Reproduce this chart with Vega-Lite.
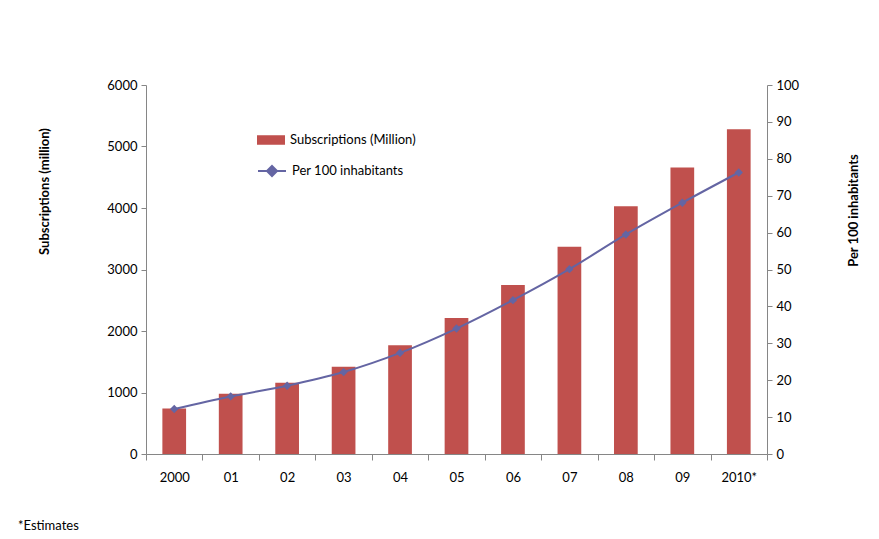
{
  "$schema": "https://vega.github.io/schema/vega-lite/v6.json",
  "autosize": {"type": "none"},
  "width": 621,
  "height": 369,
  "padding": {"left": 146, "top": 85, "right": 112, "bottom": 85},
  "background": "white",
  "config": {
    "font": "Lato",
    "view": {"stroke": null},
    "axis": {"labelFont": "Lato", "titleFont": "Lato", "labelFontSize": 13, "titleFontSize": 13, "labelColor": "#000000", "titleColor": "#000000", "domainColor": "#868686", "tickColor": "#868686", "grid": false, "titleFontWeight": "bold"},
    "legend": {"labelFont": "Lato", "labelFontSize": 13, "labelColor": "#000000", "padding": 0, "titleFontSize": 0}
  },
  "title": {"text": "*Estimates", "orient": "bottom", "anchor": "start", "frame": "group", "dx": -128, "offset": 36, "fontSize": 13, "fontWeight": "normal", "font": "Lato", "color": "#000000"},
  "data": {"values": [
    {"year": "2000", "subs": 740, "per100": 12.2},
    {"year": "01", "subs": 980, "per100": 15.6},
    {"year": "02", "subs": 1160, "per100": 18.5},
    {"year": "03", "subs": 1420, "per100": 22.2},
    {"year": "04", "subs": 1770, "per100": 27.4},
    {"year": "05", "subs": 2210, "per100": 34.0},
    {"year": "06", "subs": 2750, "per100": 41.7},
    {"year": "07", "subs": 3370, "per100": 50.1},
    {"year": "08", "subs": 4030, "per100": 59.5},
    {"year": "09", "subs": 4660, "per100": 68.1},
    {"year": "2010*", "subs": 5280, "per100": 76.3}
  ]},
  "encoding": {
    "x": {"field": "year", "type": "nominal", "sort": null,
      "scale": {"paddingInner": 0, "paddingOuter": 0},
      "axis": {"title": null, "labelAngle": 0, "tickBand": "extent", "tickSize": 6, "labelPadding": 11}}
  },
  "layer": [
    {
      "mark": {"type": "bar", "width": {"band": 0.42}},
      "encoding": {
        "y": {"field": "subs", "type": "quantitative", "scale": {"domain": [0, 6000]},
          "axis": {"title": "Subscriptions (million)", "format": "d", "values": [0, 1000, 2000, 3000, 4000, 5000, 6000], "tickSize": 5, "labelPadding": 4, "titlePadding": 55, "titleY": 106}},
        "fill": {"datum": "Subscriptions (Million)", "type": "nominal", "scale": {"range": ["#C0504D"]},
          "legend": {"title": null, "orient": "none", "legendX": 111, "legendY": 41, "symbolType": "M-1,-0.34H1V0.34H-1Z", "symbolSize": 784, "symbolStrokeWidth": 0, "labelOffset": 5}}
      }
    },
    {
      "mark": {"type": "line", "interpolate": "monotone", "strokeWidth": 2},
      "encoding": {
        "y": {"field": "per100", "type": "quantitative", "scale": {"domain": [0, 100]},
          "axis": {"title": "Per 100 inhabitants", "orient": "right", "titleAngle": 270, "values": [0, 10, 20, 30, 40, 50, 60, 70, 80, 90, 100], "tickSize": 5, "labelPadding": 4, "titlePadding": 62, "titleY": 125}},
        "stroke": {"datum": "Per 100 inhabitants", "type": "nominal", "scale": {"range": ["#6465A3"]},
          "legend": {"title": null, "orient": "none", "legendX": 111, "legendY": 71, "symbolType": "M-1,0H1M0,-0.36L0.36,0L0,0.36L-0.36,0Z", "symbolSize": 784, "symbolStrokeWidth": 2, "symbolFillColor": "#6465A3", "labelOffset": 5}}
      }
    },
    {
      "mark": {"type": "point", "shape": "diamond", "filled": true, "size": 70, "color": "#6465A3", "opacity": 1},
      "encoding": {
        "y": {"field": "per100", "type": "quantitative", "scale": {"domain": [0, 100]}, "axis": null}
      }
    }
  ],
  "resolve": {"scale": {"y": "independent"}}
}
